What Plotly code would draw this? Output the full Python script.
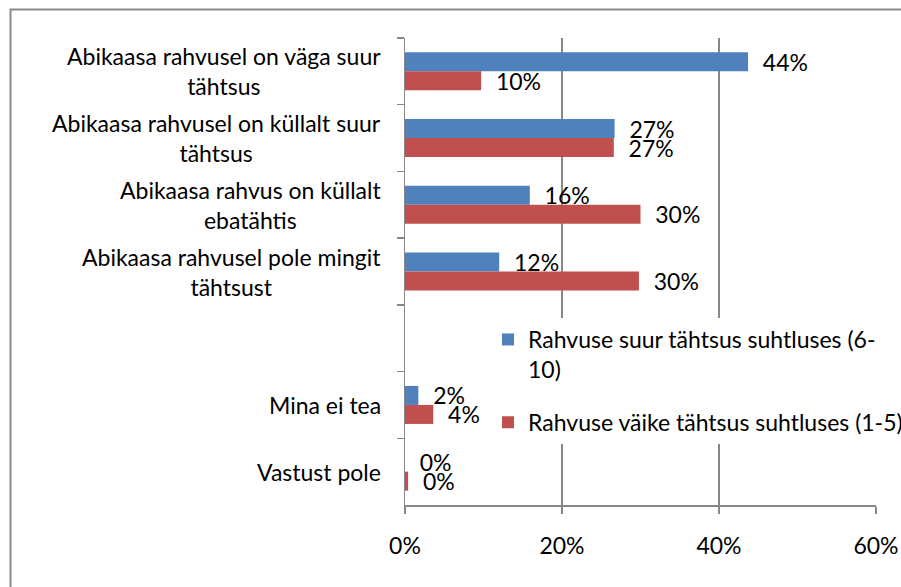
import plotly.graph_objects as go

categories = [
    "Abikaasa rahvusel on väga suur<br>tähtsus",
    "Abikaasa rahvusel on küllalt suur<br>tähtsus",
    "Abikaasa rahvus on küllalt<br>ebatähtis",
    "Abikaasa rahvusel pole mingit<br>tähtsust",
    " ",
    "Mina ei tea",
    "Vastust pole",
]
series_names = [
    "Rahvuse suur tähtsus suhtluses (6-<br>10)",
    "Rahvuse väike tähtsus suhtluses (1-5)",
]
high_values = [43.7, 26.7, 15.9, 12.0, None, 1.7, 0.0]
low_values = [9.7, 26.6, 30.0, 29.8, None, 3.6, 0.4]
x_ticks = [0, 20, 40, 60]
x_tick_labels = ["0%", "20%", "40%", "60%"]

FONT = "Lato"
FS = 23
GRID = "#878787"
colors = ["#4F81BD", "#C0504D"]

W, H = 901, 587
L, T = 405, 38
PW, PH = 471, 467

fig = go.Figure()
for i, (name, vals) in enumerate(zip(series_names, [high_values, low_values])):
    fig.add_trace(go.Bar(
        y=categories, x=vals, orientation="h", name=name,
        marker=dict(color=colors[i], line=dict(width=0)),
        text=[None if v is None else "\u00a0\u00a0%d%%" % round(v) for v in vals],
        textposition="outside", constraintext="none", cliponaxis=False,
        textfont=dict(family=FONT, size=FS, color="#000000"),
        legendgroup="g%d" % i, hoverinfo="skip",
    ))

annotations = []
for c in categories:
    if c.strip():
        annotations.append(dict(
            x=0, xref="paper", y=c, yref="y", text=c, showarrow=False,
            xanchor="right", yanchor="middle", align="center", xshift=-22,
            font=dict(family=FONT, size=FS, color="#000000"),
        ))

fig.update_layout(
    width=W, height=H,
    margin=dict(l=L, r=W - L - PW, t=T, b=H - T - PH, autoexpand=False),
    paper_bgcolor="white", plot_bgcolor="white",
    barmode="group", bargap=0.43, bargroupgap=0,
    font=dict(family=FONT, size=FS, color="#000000"),
    showlegend=True,
    legend=dict(
        x=(488 - L) / PW, y=(T + PH - 318) / PH, xanchor="left", yanchor="top",
        bgcolor="white", valign="top", tracegroupgap=20,
        font=dict(family=FONT, size=FS, color="#000000"),
    ),
    annotations=annotations,
    shapes=[dict(
        type="rect", xref="paper", yref="paper",
        x0=(10.5 - L) / PW, x1=(930 - L) / PW,
        y0=(T + PH - 630) / PH, y1=(T + PH - 9.5) / PH,
        line=dict(color="#898989", width=2), fillcolor="rgba(0,0,0,0)", layer="below",
    )],
    xaxis=dict(
        range=[0, 60], tickvals=x_ticks, ticktext=x_tick_labels,
        showgrid=True, gridcolor=GRID, gridwidth=1.5,
        showline=True, linecolor=GRID, linewidth=1.5,
        ticks="outside", ticklen=7, tickcolor=GRID, tickwidth=1.5,
        ticklabelstandoff=13, zeroline=False, fixedrange=True,
    ),
    yaxis=dict(
        categoryorder="array", categoryarray=categories,
        autorange="reversed", showticklabels=False,
        showline=True, linecolor=GRID, linewidth=1.5,
        ticks="outside", ticklen=7, tickcolor=GRID, tickwidth=1.5,
        tickson="boundaries", showgrid=False, zeroline=False, fixedrange=True,
    ),
)

fig.write_html(
    "out.html",
    config={"displayModeBar": False, "staticPlot": True},
    post_script="document.body.style.margin='0';document.body.style.overflow='hidden';",
)
